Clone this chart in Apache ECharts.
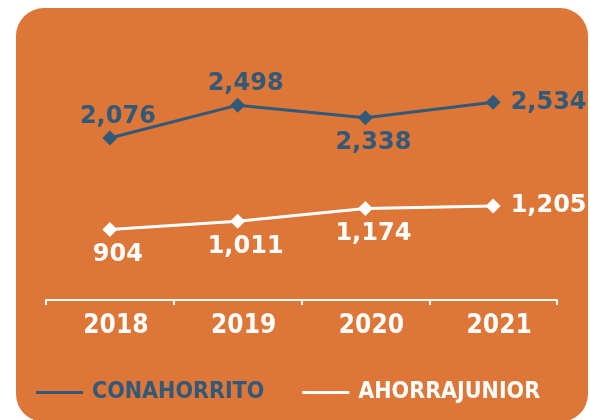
<!DOCTYPE html>
<html>
<head>
<meta charset="utf-8">
<script src="https://cdn.jsdelivr.net/npm/echarts@6/dist/echarts.min.js"></script>
<style>
  html, body { margin: 0; padding: 0; background: #ffffff; }
  #chart { width: 590px; height: 420px; }
</style>
</head>
<body>
<div id="chart"></div>
<script>
// data
const years = ["2018", "2019", "2020", "2021"];
const conahorrito = [2076, 2498, 2338, 2534];
const ahorrajunior = [904, 1011, 1174, 1205];

// label placement per point (style only)
const blueLabelPos = ["top", "top", "bottom", "right"];
const whiteLabelPos = ["bottom", "bottom", "bottom", "right"];

const ORANGE = "#DD7636";
const BLUE = "#30597A";
const WHITE = "#ffffff";

const chart = echarts.init(document.getElementById("chart"));

const distFor = (pos) => (pos === "right" ? 10 : pos === "top" ? 2 : 6);

const labelFor = (pos, color) => ({
  show: true,
  position: pos,
  distance: distFor(pos),
  offset: pos === "right" ? [0, 0] : [8, 0],
  color: color,
  fontFamily: "DejaVu Sans",
  fontWeight: "bold",
  fontSize: 24,
  formatter: (p) => p.value.toLocaleString("en-US"),
});

const buildData = (values, positions, color) =>
  values.map((v, i) => ({ value: v, label: labelFor(positions[i], color) }));

chart.setOption({
  backgroundColor: WHITE,
  animation: false,
  graphic: [
    {
      type: "rect",
      z: -10,
      shape: { x: 16, y: 8, width: 572, height: 414, r: 28 },
      style: { fill: ORANGE },
    },
  ],
  grid: {
    left: 46,
    right: 33,
    top: 27,
    bottom: 120,
  },
  legend: {
    left: 31,
    top: 376,
    icon: "rect",
    itemWidth: 47,
    itemHeight: 3,
    itemGap: 38,
    textStyle: {
      fontFamily: "DejaVu Sans Condensed",
      fontWeight: "bold",
      fontSize: 23,
      padding: [0, 0, 0, 4],
    },
    data: [
      { name: "CONAHORRITO", textStyle: { color: BLUE } },
      { name: "AHORRAJUNIOR", textStyle: { color: WHITE } },
    ],
  },
  xAxis: {
    type: "category",
    data: years,
    boundaryGap: true,
    axisLine: { lineStyle: { color: WHITE, width: 2 } },
    axisTick: { show: true, length: 5, lineStyle: { color: WHITE, width: 2 } },
    axisLabel: {
      color: WHITE,
      fontFamily: "DejaVu Sans Condensed",
      fontWeight: "bold",
      fontSize: 26,
      margin: 13,
      padding: [0, 0, 0, 12],
    },
  },
  yAxis: {
    type: "value",
    min: 0,
    max: 3500,
    show: false,
  },
  series: [
    {
      name: "CONAHORRITO",
      type: "line",
      data: buildData(conahorrito, blueLabelPos, BLUE),
      symbol: "diamond",
      symbolSize: 15,
      itemStyle: { color: BLUE },
      lineStyle: { color: BLUE, width: 3 },
    },
    {
      name: "AHORRAJUNIOR",
      type: "line",
      data: buildData(ahorrajunior, whiteLabelPos, WHITE),
      symbol: "diamond",
      symbolSize: 15,
      itemStyle: { color: WHITE },
      lineStyle: { color: WHITE, width: 3 },
    },
  ],
});
</script>
</body>
</html>
